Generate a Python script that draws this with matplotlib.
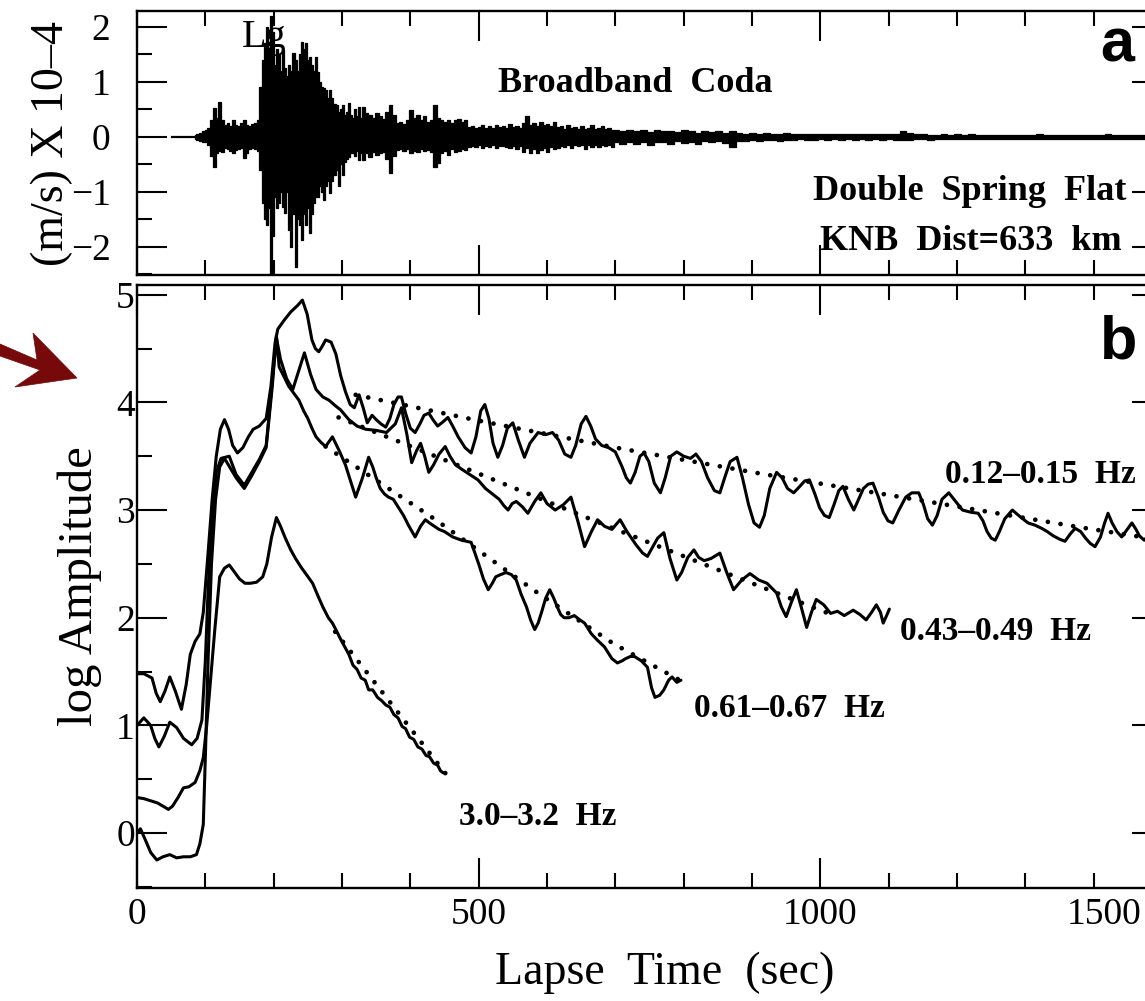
import numpy as np
import matplotlib
matplotlib.use("Agg")
import matplotlib.pyplot as plt
from matplotlib.patches import Polygon
from matplotlib.ticker import MultipleLocator
from matplotlib.transforms import ScaledTranslation

# ------------------------------------------------------------------
# Panel a: broadband velocity record (units of 1e-4 m/s).
# Each segment: start time, sample step (s), (positive peak, negative peak)
# ------------------------------------------------------------------
quiet_t = [51, 85]
quiet_v = [0.0, 0.0]

seg_p_start, seg_p_step = 85, 4
seg_p = [(0.04, -0.04), (0.06, -0.05), (0.08, -0.07), (0.10, -0.09), (0.12, -0.10),
         (0.16, -0.15), (0.30, -0.35), (0.53, -0.55), (0.35, -0.30), (0.64, -0.25),
         (0.30, -0.28), (0.22, -0.20), (0.25, -0.22), (0.20, -0.25), (0.31, -0.30),
         (0.22, -0.24), (0.20, -0.22), (0.25, -0.20), (0.31, -0.38), (0.22, -0.30),
         (0.20, -0.22), (0.24, -0.20), (0.25, -0.22), (0.30, -0.25)]

seg_lg_start, seg_lg_step = 181, 3
seg_lg = [(0.9, -0.6), (1.4, -1.2), (1.7, -1.5), (2.0, -1.6), (1.5, -1.3),
          (2.2, -2.5), (1.9, -1.8), (1.3, -1.1), (1.6, -1.3), (1.5, -1.2),
          (1.2, -1.0), (1.58, -1.27), (1.25, -1.38), (1.1, -1.0), (1.3, -1.7),
          (1.2, -2.0), (1.53, -1.4), (1.4, -2.36), (1.2, -1.5), (1.5, -1.6),
          (1.73, -1.87), (1.6, -1.4), (1.7, -1.6), (1.4, -1.3), (1.45, -1.75),
          (1.3, -1.4), (1.2, -1.2), (1.45, -1.1), (1.18, -1.09), (1.0, -0.9),
          (0.9, -1.0), (0.89, -1.15), (0.85, -0.9), (0.7, -0.8), (0.85, -1.02),
          (0.7, -0.8), (0.6, -0.7), (0.58, -0.6), (0.45, -0.9), (0.5, -0.5),
          (0.58, -0.7), (0.4, -0.45), (0.45, -0.4), (0.62, -0.36), (0.4, -0.3),
          (0.35, -0.3), (0.5, -0.35), (0.38, -0.25), (0.55, -0.42), (0.35, -0.3)]

seg_coda_start, seg_coda_step = 331, 5
seg_coda = [(0.55, -0.42), (0.44, -0.30), (0.40, -0.36), (0.35, -0.28), (0.44, -0.33),
            (0.38, -0.30), (0.32, -0.28), (0.45, -0.40), (0.58, -0.65), (0.40, -0.35),
            (0.25, -0.24), (0.28, -0.22), (0.24, -0.26), (0.30, -0.22), (0.49, -0.30),
            (0.35, -0.25), (0.40, -0.28), (0.30, -0.22), (0.38, -0.26), (0.28, -0.24),
            (0.30, -0.28), (0.58, -0.55), (0.35, -0.47), (0.30, -0.30), (0.28, -0.25),
            (0.30, -0.33), (0.25, -0.22), (0.30, -0.28), (0.33, -0.25), (0.28, -0.22),
            (0.30, -0.24), (0.18, -0.18), (0.20, -0.16), (0.16, -0.18), (0.18, -0.15),
            (0.22, -0.20), (0.17, -0.16), (0.20, -0.18), (0.16, -0.15), (0.22, -0.20),
            (0.18, -0.17), (0.20, -0.16), (0.16, -0.18), (0.24, -0.20), (0.18, -0.16),
            (0.20, -0.22), (0.17, -0.16), (0.25, -0.28), (0.38, -0.20), (0.22, -0.30),
            (0.26, -0.22), (0.20, -0.30), (0.28, -0.24), (0.22, -0.20), (0.24, -0.28),
            (0.20, -0.18), (0.28, -0.22), (0.18, -0.20), (0.20, -0.16), (0.15, -0.18),
            (0.22, -0.15), (0.16, -0.20), (0.18, -0.15), (0.14, -0.17), (0.20, -0.15),
            (0.15, -0.22), (0.17, -0.14), (0.22, -0.18), (0.14, -0.15), (0.16, -0.18),
            (0.20, -0.14), (0.14, -0.16), (0.16, -0.14), (0.13, -0.18)]

seg_tail_start, seg_tail_step = 701, 10
seg_tail = [(0.12, -0.10), (0.10, -0.13), (0.13, -0.09), (0.10, -0.12), (0.12, -0.10),
            (0.09, -0.14), (0.13, -0.10), (0.10, -0.09), (0.11, -0.13), (0.09, -0.08),
            (0.12, -0.11), (0.10, -0.09), (0.08, -0.12), (0.11, -0.08), (0.09, -0.10),
            (0.10, -0.08), (0.08, -0.11), (0.10, -0.18), (0.08, -0.08), (0.06, -0.07),
            (0.07, -0.05), (0.05, -0.07), (0.07, -0.06), (0.06, -0.05), (0.05, -0.07),
            (0.07, -0.05), (0.05, -0.06), (0.06, -0.045), (0.045, -0.06), (0.06, -0.05),
            (0.05, -0.045), (0.045, -0.06), (0.06, -0.045), (0.05, -0.05), (0.045, -0.045),
            (0.05, -0.06), (0.045, -0.045), (0.06, -0.05), (0.045, -0.045), (0.05, -0.06),
            (0.045, -0.045), (0.05, -0.05), (0.10, -0.06), (0.07, -0.05), (0.045, -0.045),
            (0.05, -0.04), (0.04, -0.05), (0.035, -0.035), (0.045, -0.04), (0.035, -0.045),
            (0.045, -0.035), (0.035, -0.035), (0.05, -0.04), (0.035, -0.035), (0.04, -0.04),
            (0.035, -0.035), (0.04, -0.035), (0.035, -0.04), (0.04, -0.035), (0.035, -0.035),
            (0.04, -0.04), (0.035, -0.035), (0.05, -0.035), (0.035, -0.035), (0.04, -0.04),
            (0.035, -0.035), (0.04, -0.035), (0.035, -0.04), (0.04, -0.035), (0.035, -0.035),
            (0.04, -0.035), (0.035, -0.035), (0.045, -0.035), (0.035, -0.035), (0.04, -0.04),
            (0.035, -0.035), (0.04, -0.035), (0.035, -0.035), (0.04, -0.035), (0.035, -0.035),
            (0.035, -0.035)]

# ------------------------------------------------------------------
# Panel b: log coda amplitude in four frequency bands, plus fitted decay
# ------------------------------------------------------------------
band_012_t = [0, 10, 22, 28, 34, 41, 48, 56, 65, 72, 78, 85, 92, 97, 104, 110, 116, 122, 128,
              134, 140, 147, 155, 163, 170, 179, 189, 196, 202, 206, 215, 225, 235, 242,
              249, 256, 261, 266, 271, 276, 284, 291, 298, 305, 312, 318, 325, 331, 337,
              344, 350, 357, 364, 370, 376, 382, 387, 393, 400, 407, 414, 420, 427, 433,
              440, 448, 455, 462, 470, 480, 489, 496, 503, 509, 515, 521, 528, 535, 542,
              550, 558, 567, 575, 587, 598, 608, 617, 626, 635, 642, 650, 657, 664, 671,
              680, 690, 700, 710, 716, 722, 729, 736, 742, 749, 757, 766, 773, 781, 790,
              800, 810, 818, 826, 835, 845, 853, 860, 868, 878, 886, 895, 903, 911, 918,
              926, 936, 944, 952, 961, 970, 977, 984, 992, 999, 1006, 1013, 1020, 1027,
              1033, 1041, 1049, 1056, 1063, 1070, 1077, 1085, 1092, 1099, 1106, 1115,
              1125, 1134, 1144, 1151, 1157, 1164, 1171, 1178, 1188, 1198, 1208, 1220,
              1231, 1238, 1244, 1250, 1256, 1262, 1270, 1281, 1292, 1304, 1314, 1324,
              1332, 1341, 1350, 1358, 1366, 1373, 1381, 1388, 1395, 1402, 1410, 1416,
              1421, 1427, 1434, 1441, 1449, 1456, 1462, 1467, 1474, 1482, 1490, 1500]
band_012_v = [1.48, 1.48, 1.44, 1.30, 1.22, 1.32, 1.45, 1.32, 1.15, 1.38, 1.66, 1.78, 1.85,
              2.05, 2.60, 3.10, 3.50, 3.75, 3.84, 3.75, 3.60, 3.53, 3.58, 3.68, 3.75, 3.78, 3.85,
              4.15, 4.55, 4.68, 4.76, 4.84, 4.90, 4.95, 4.82, 4.58, 4.50, 4.47, 4.52, 4.58,
              4.56, 4.45, 4.25, 4.10, 3.98, 3.95, 4.07, 3.95, 3.81, 3.88, 3.84, 3.80, 3.77,
              3.85, 3.98, 4.05, 4.05, 3.90, 3.76, 3.72, 3.80, 3.88, 3.90, 3.84, 3.78, 3.82,
              3.86, 3.78, 3.68, 3.58, 3.53, 3.68, 3.92, 3.98, 3.85, 3.62, 3.49, 3.60, 3.76,
              3.81, 3.65, 3.49, 3.62, 3.72, 3.70, 3.72, 3.65, 3.52, 3.49, 3.60, 3.80, 3.87,
              3.78, 3.66, 3.60, 3.58, 3.54, 3.40, 3.30, 3.25, 3.35, 3.50, 3.53, 3.45, 3.25,
              3.16, 3.30, 3.50, 3.54, 3.50, 3.48, 3.52, 3.45, 3.30, 3.18, 3.16, 3.30, 3.45,
              3.49, 3.30, 3.05, 2.88, 2.84, 2.95, 3.20, 3.35, 3.30, 3.20, 3.16, 3.22, 3.27,
              3.28, 3.15, 3.02, 2.95, 2.93, 3.05, 3.18, 3.22, 3.10, 3.00, 3.10, 3.20, 3.24,
              3.25, 3.12, 2.98, 2.90, 2.88, 3.00, 3.12, 3.16, 3.16, 3.05, 2.92, 2.86, 2.95,
              3.10, 3.16, 3.08, 3.00, 2.98, 2.97, 2.90, 2.80, 2.74, 2.72, 2.80, 2.92, 3.00,
              2.94, 2.88, 2.86, 2.83, 2.80, 2.76, 2.73, 2.71, 2.78, 2.83, 2.80, 2.74, 2.69,
              2.66, 2.75, 2.88, 2.97, 2.88, 2.80, 2.75, 2.82, 2.88, 2.82, 2.76, 2.72, 2.78,
              2.80, 2.74]

band_043_t = [0, 10, 20, 26, 32, 40, 48, 58, 68, 80, 88, 95, 100, 104, 110, 116, 123, 135,
              145, 157, 168, 179, 189, 198, 204, 210, 219, 228, 236, 245, 254, 262, 272,
              281, 290, 298, 310, 322, 335, 350, 365, 378, 387, 395, 402, 409, 415, 421,
              427, 434, 442, 451, 458, 466, 475, 487, 499, 510, 520, 530, 537, 543, 549,
              555, 564, 572, 582, 591, 600, 612, 624, 635, 645, 655, 665, 674, 684, 695,
              707, 717, 730, 740, 747, 754, 762, 771, 780, 790, 797, 806, 815, 822, 830,
              840, 853, 863, 873, 885, 897, 910, 922, 936, 943, 950, 958, 965, 972, 980,
              987, 994, 1005, 1015, 1025, 1035, 1048, 1058, 1067, 1075, 1082, 1088, 1092,
              1097, 1101]
band_043_v = [1.00, 1.07, 1.00, 0.88, 0.80, 0.90, 1.03, 0.98, 0.88, 0.82, 0.88, 1.05, 1.60,
              2.25, 2.95, 3.35, 3.48, 3.50, 3.33, 3.23, 3.35, 3.47, 3.60, 4.20, 4.60, 4.40,
              4.22, 4.12, 4.28, 4.46, 4.26, 4.12, 4.05, 4.02, 3.97, 3.93, 3.84, 3.78, 3.75,
              3.74, 3.72, 3.80, 3.95, 3.70, 3.44, 3.55, 3.62, 3.50, 3.35, 3.42, 3.52, 3.59,
              3.50, 3.42, 3.38, 3.33, 3.28, 3.20, 3.15, 3.10, 3.04, 3.00, 3.06, 3.08, 3.03,
              2.97, 3.08, 3.16, 3.06, 3.00, 3.05, 3.12, 2.90, 2.66, 2.80, 2.91, 2.85, 2.82,
              2.91, 2.80, 2.68, 2.60, 2.57, 2.65, 2.74, 2.79, 2.55, 2.35, 2.42, 2.56, 2.63,
              2.56, 2.53, 2.55, 2.60, 2.42, 2.26, 2.35, 2.41, 2.35, 2.32, 2.23, 2.10, 2.01,
              2.15, 2.26, 2.10, 1.91, 2.05, 2.17, 2.12, 2.04, 2.06, 2.02, 2.07, 2.03, 1.98,
              2.05, 2.12, 2.05, 1.95, 2.02, 2.08]

band_061_t = [0, 5, 12, 20, 29, 38, 48, 58, 68, 78, 87, 92, 97, 100, 104, 109, 115, 121,
              128, 145, 157, 168, 179, 189, 198, 204, 208, 215, 222, 230, 237, 244, 250,
              256, 262, 269, 276, 286, 296, 305, 312, 320, 330, 339, 345, 350, 356, 362,
              368, 375, 383, 390, 398, 407, 415, 422, 428, 435, 442, 450, 462, 475, 489,
              500, 507, 514, 520, 525, 532, 540, 548, 555, 562, 570, 576, 582, 587, 592,
              598, 604, 610, 615, 620, 625, 632, 640, 648, 655, 665, 674, 684, 695, 703,
              710, 715, 722, 728, 738, 747, 753, 758, 765, 771, 778, 783, 790, 796]
band_061_v = [0.00, 0.04, -0.06, -0.18, -0.25, -0.22, -0.20, -0.23, -0.22, -0.22, -0.20,
              -0.10, 0.08, 0.70, 1.60, 2.50, 3.10, 3.40, 3.48, 3.30, 3.20, 3.32, 3.45, 3.58,
              4.15, 4.62, 4.33, 4.24, 4.15, 4.08, 4.02, 3.92, 3.85, 3.76, 3.68, 3.63, 3.59,
              3.68, 3.55, 3.42, 3.28, 3.12, 3.30, 3.49, 3.40, 3.30, 3.20, 3.15, 3.12, 3.10,
              3.02, 2.95, 2.85, 2.75, 2.85, 2.91, 2.88, 2.85, 2.82, 2.80, 2.75, 2.72, 2.70,
              2.50, 2.36, 2.26, 2.32, 2.38, 2.40, 2.42, 2.40, 2.35, 2.22, 2.10, 1.98, 1.89,
              1.95, 2.05, 2.18, 2.26, 2.18, 2.10, 2.03, 2.00, 2.00, 2.02, 1.98, 1.95, 1.85,
              1.79, 1.73, 1.62, 1.58, 1.60, 1.62, 1.64, 1.64, 1.60, 1.54, 1.35, 1.26, 1.28,
              1.33, 1.42, 1.45, 1.40, 1.42]

band_30_t = [0, 10, 20, 30, 38, 46, 52, 60, 68, 76, 85, 92, 97, 102, 108, 114, 121, 128,
             135, 142, 150, 158, 166, 175, 184, 190, 197, 204, 210, 217, 225, 232, 240,
             248, 257, 265, 272, 280, 286, 291, 298, 304, 310, 316, 322, 328, 334, 339,
             345, 352, 358, 364, 370, 376, 382, 388, 393, 399, 405, 411, 417, 423, 428,
             434, 440, 444, 448]
band_30_v = [0.33, 0.32, 0.30, 0.28, 0.25, 0.22, 0.25, 0.33, 0.42, 0.43, 0.47, 0.58, 0.70,
             1.00, 1.45, 1.90, 2.38, 2.46, 2.49, 2.43, 2.36, 2.32, 2.32, 2.33, 2.38, 2.50,
             2.75, 2.93, 2.85, 2.74, 2.63, 2.55, 2.47, 2.40, 2.32, 2.20, 2.10, 2.00, 1.95,
             1.89, 1.80, 1.73, 1.66, 1.56, 1.52, 1.44, 1.42, 1.33, 1.33, 1.26, 1.23, 1.19,
             1.17, 1.10, 1.07, 0.99, 0.97, 0.89, 0.87, 0.80, 0.78, 0.72, 0.71, 0.65, 0.63,
             0.58, 0.56]

fit_012_t = [320, 500, 700, 920, 1100, 1240, 1380, 1500]
fit_012_v = [4.07, 3.83, 3.58, 3.33, 3.14, 2.99, 2.84, 2.72]
fit_043_t = [295, 480, 693, 936, 1020]
fit_043_v = [3.86, 3.39, 2.84, 2.23, 2.02]
fit_061_t = [276, 437, 582, 697, 800]
fit_061_v = [3.59, 2.91, 2.25, 1.76, 1.40]
fit_30_t = [290, 452]
fit_30_v = [1.87, 0.55]

band_names = ["0.12–0.15  Hz", "0.43–0.49  Hz", "0.61–0.67  Hz", "3.0–3.2  Hz"]
band_label_pos = [(1183, 3.25), (1117, 1.79), (815, 1.08), (471, 0.074)]

x_ticks = [0, 500, 1000, 1500]

# ------------------------------------------------------------------
W, H = 1145, 1001
fig = plt.figure(figsize=(W / 100, H / 100), dpi=100)
fig.patch.set_facecolor("white")

SERIF = "Liberation Serif"
SANS = "Liberation Sans"


def px_box(left, top, right, bottom):
    return [left / W, 1 - bottom / H, (right - left) / W, (bottom - top) / H]


ax_a = fig.add_axes(px_box(137, 11, 1162, 275))
ax_b = fig.add_axes(px_box(137, 285, 1162, 888))


def build(start, step, pairs):
    arr = np.asarray(pairs, dtype=float)
    t = start + step * np.arange(len(arr))
    return t, arr[:, 0], arr[:, 1]


segs = [build(seg_p_start, seg_p_step, seg_p),
        build(seg_lg_start, seg_lg_step, seg_lg),
        build(seg_coda_start, seg_coda_step, seg_coda),
        build(seg_tail_start, seg_tail_step, seg_tail)]
trace_t = np.concatenate([s[0] for s in segs])
trace_hi = np.concatenate([s[1] for s in segs])
trace_lo = np.concatenate([s[2] for s in segs])

# ---- panel a ----
ax_a.plot(quiet_t, quiet_v, color="black", lw=1.6, zorder=3)
ax_a.fill_between(trace_t, trace_lo, trace_hi, step="mid", facecolor="black",
                  edgecolor="black", lw=0.9, zorder=3)
ax_a.text(154, 1.64, "Lg", family=SERIF, fontsize=29, va="baseline", ha="left", zorder=1)
ax_a.text(729, 0.82, "Broadband  Coda", family=SERIF, weight="bold", fontsize=26,
          ha="center", va="baseline")
ax_a.text(1448, -1.15, "Double  Spring  Flat", family=SERIF, weight="bold", fontsize=26,
          ha="right", va="baseline")
ax_a.text(1220, -2.05, "KNB  Dist=633  km", family=SERIF, weight="bold", fontsize=26,
          ha="center", va="baseline")
ax_a.text(1409, 1.38, "a", family=SANS, weight="bold", fontsize=44, ha="left", va="baseline")
ax_a.set_xlim(0, 1500)
ax_a.set_ylim(-2.51, 2.29)
ax_a.set_xticks(x_ticks)
ax_a.yaxis.set_major_locator(MultipleLocator(1))
ax_a.yaxis.set_minor_locator(MultipleLocator(0.5))
ax_a.xaxis.set_minor_locator(MultipleLocator(100))
ax_a.tick_params(axis="x", labelbottom=False)
ax_a.tick_params(axis="y", pad=19)
ax_a.set_ylabel("(m/s) X 10–4", family=SERIF, fontsize=33)
ax_a.yaxis.set_label_coords(-0.062, 0.5)

# ---- panel b ----
curve_kw = dict(color="black", lw=2.2, solid_joinstyle="round", solid_capstyle="round", zorder=3)
ax_b.plot(band_012_t, band_012_v, **curve_kw)
ax_b.plot(band_043_t, band_043_v, **curve_kw)
ax_b.plot(band_061_t, band_061_v, **curve_kw)
ax_b.plot(band_30_t, band_30_v, **curve_kw)

fit_kw = dict(color="black", lw=3.4, linestyle=(0, (0.01, 2.7)), dash_capstyle="round", zorder=4)
for ft, fv in [(fit_012_t, fit_012_v), (fit_043_t, fit_043_v),
               (fit_061_t, fit_061_v), (fit_30_t, fit_30_v)]:
    ax_b.plot(ft, fv, **fit_kw)

for name, (tx, ty) in zip(band_names, band_label_pos):
    ax_b.text(tx, ty, name, family=SERIF, weight="bold", fontsize=24,
              ha="left", va="baseline", zorder=5)
ax_b.text(1409, 4.41, "b", family=SANS, weight="bold", fontsize=44, ha="left", va="baseline")

ax_b.set_xlim(0, 1500)
ax_b.set_ylim(-0.51, 5.09)
ax_b.set_xticks(x_ticks)
ax_b.xaxis.set_minor_locator(MultipleLocator(100))
ax_b.yaxis.set_major_locator(MultipleLocator(1))
ax_b.yaxis.set_minor_locator(MultipleLocator(0.5))
ax_b.tick_params(axis="y", pad=1.5)
ax_b.tick_params(axis="x", pad=6.5)
ax_b.set_xlabel("Lapse  Time  (sec)", family=SERIF, fontsize=33)
ax_b.xaxis.set_label_coords(0.515, -0.106)
ax_b.set_ylabel("log Amplitude", family=SERIF, fontsize=35)
ax_b.yaxis.set_label_coords(-0.034, 0.5)

for ax in (ax_a, ax_b):
    for sp in ax.spines.values():
        sp.set_linewidth(1.7)
    ax.tick_params(which="both", direction="in", top=True, right=True, width=1.5)
    ax.tick_params(which="major", length=21.5)
    ax.tick_params(which="minor", length=10.5)
    for lab in ax.get_xticklabels() + ax.get_yticklabels():
        lab.set_family(SERIF)
        lab.set_fontsize(27)

# the last time label sits left of its tick so it stays on the page
last = ax_b.xaxis.get_major_ticks()[-1].label1
last.set_transform(last.get_transform() + ScaledTranslation(-0.58, 0, fig.dpi_scale_trans))

# pointer arrow at the left margin
arrow_px = np.array([(0, 344), (37, 360), (33, 333), (77, 378), (15, 387), (40, 370), (0, 356)], float)
arrow_fig = np.column_stack([arrow_px[:, 0] / W, 1 - arrow_px[:, 1] / H])
fig.patches.append(Polygon(arrow_fig, closed=True, transform=fig.transFigure,
                           facecolor="#760a0a", edgecolor="#760a0a", lw=0.5))

fig.savefig("out.png", dpi=100, facecolor="white")
